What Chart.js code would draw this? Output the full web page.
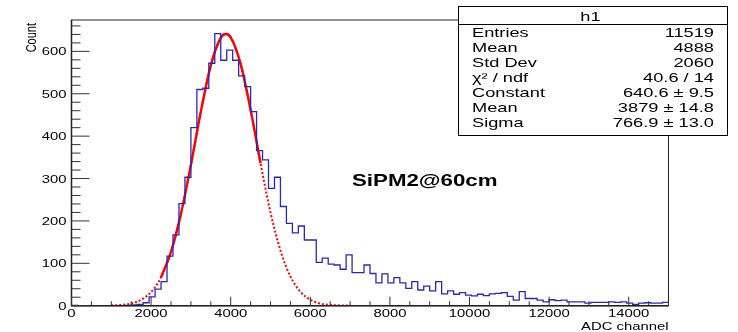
<!DOCTYPE html>
<html>
<head>
<meta charset="utf-8">
<script src="https://cdn.jsdelivr.net/npm/chart.js@4.4.0/dist/chart.umd.min.js"></script>
<style>
  html, body { margin: 0; padding: 0; background: #fff; }
  canvas { display: block; }
</style>
</head>
<body>
<canvas id="histo" width="738" height="332"></canvas>
<script>
// ======================================
// Data
// ======================================
const binLow = 0;
const binWidth = 150;
// 100 bins, 0 .. 15000
const binCounts = [
    1, 0, 0, 0, 0, 0, 0, 0, 0, 1,
    2, 3, 7, 21, 39, 57, 117, 167, 241, 303,
    420, 510, 513, 572, 642, 579, 603, 579, 542, 517,
    458, 366, 344, 277, 303, 234, 194, 172, 188, 155,
    155, 102, 112, 98, 96, 86, 120, 78, 78, 96,
    76, 54, 75, 54, 66, 54, 41, 57, 37, 46,
    35, 57, 28, 35, 27, 31, 25, 23, 27, 24,
    28, 29, 31, 22, 13, 33, 17, 17, 13, 9,
    14, 12, 13, 9, 9, 9, 6, 8, 8, 8,
    9, 8, 9, 6, 3, 6, 7, 6, 6, 8
];

// gaus fit curve (red)
const fitX = [1000, 1250, 1500, 1750, 2000, 2250, 2500, 2750, 3000, 3250, 3500, 3750, 3875,
              4000, 4250, 4500, 4750, 5000, 5250, 5500, 5750, 6000, 6250, 6500, 6750, 7000];
const fitY = [0.6, 1.8, 5, 14, 32, 67, 127, 217, 332, 458, 567, 632, 641,
              633, 570, 462, 336, 220, 130, 69, 33, 14, 5, 2, 0.6, 0.2];
const fitRange = [2250, 4750]; // solid part, the rest is dotted

const xTickLabels = [0, 2000, 4000, 6000, 8000, 10000, 12000, 14000];
const yTickLabels = [0, 100, 200, 300, 400, 500, 600];
const xTitle = 'ADC channel';
const yTitle = 'Count';
const plotLabel = 'SiPM2@60cm';

const statsTitle = 'h1';
const statsNames = ['Entries', 'Mean', 'Std Dev', 'χ² / ndf', 'Constant', 'Mean', 'Sigma'];
const statsValues = ['11519', '4888', '2060', '40.6 / 14', '640.6 ± 9.5', '3879 ± 14.8', '766.9 ± 13.0'];

// ======================================
// Build datasets
// ======================================
const histPoints = binCounts.map((c, i) => ({ x: binLow + i * binWidth, y: c }));
histPoints.push({ x: binLow + binCounts.length * binWidth, y: binCounts[binCounts.length - 1] });

const fitAll = fitX.map((x, i) => ({ x: x, y: fitY[i] }));
const fitSolid = fitAll.filter(p => p.x >= fitRange[0] && p.x <= fitRange[1]);

// ======================================
// Text helpers (the picture is stretched sideways)
// ======================================
const SX = 1.35;
const FONT = "'Liberation Sans', Arial, Helvetica, sans-serif";

function drawText(ctx, text, x, y, align, font) {
    ctx.save();
    ctx.font = font;
    ctx.textAlign = 'left';
    const w = ctx.measureText(text).width * SX;
    let left = x;
    if (align === 'center') left = x - w / 2;
    if (align === 'right') left = x - w;
    ctx.translate(left, y);
    ctx.scale(SX, 1);
    ctx.fillText(text, 0, 0);
    ctx.restore();
}

// ======================================
// Frame, ticks, labels, stats box
// ======================================
const rootFrame = {
    id: 'rootFrame',
    afterDraw(chart) {
        const ctx = chart.ctx;
        const a = chart.chartArea;
        const xs = chart.scales.x;
        const ys = chart.scales.y;
        ctx.save();

        // frame
        ctx.strokeStyle = '#222';
        ctx.lineWidth = 1;
        ctx.strokeRect(a.left, a.top, a.right - a.left, a.bottom - a.top);
        ctx.lineWidth = 1.5;
        ctx.beginPath();
        ctx.moveTo(a.left, a.top);
        ctx.lineTo(a.left, a.bottom);
        ctx.lineTo(a.right, a.bottom);
        ctx.stroke();

        // ticks inside the frame
        ctx.lineWidth = 1;
        ctx.strokeStyle = '#333';
        ctx.beginPath();
        for (let v = 0; v <= ys.max; v += 20) {
            const y = ys.getPixelForValue(v);
            const len = v % 100 === 0 ? 18 : 9;
            ctx.moveTo(a.left, y);
            ctx.lineTo(a.left + len, y);
        }
        for (let v = 0; v <= xs.max; v += 500) {
            const x = xs.getPixelForValue(v);
            const len = v % 2000 === 0 ? 9 : 4.5;
            ctx.moveTo(x, a.bottom);
            ctx.lineTo(x, a.bottom - len);
        }
        ctx.stroke();

        // tick labels
        ctx.fillStyle = '#000';
        ctx.textBaseline = 'alphabetic';
        const tickFont = '11px ' + FONT;
        yTickLabels.forEach(v => {
            drawText(ctx, String(v), a.left - 5, ys.getPixelForValue(v) + 4, 'right', tickFont);
        });
        xTickLabels.forEach(v => {
            drawText(ctx, String(v), xs.getPixelForValue(v), a.bottom + 11.5, 'center', tickFont);
        });

        // axis titles
        drawText(ctx, xTitle, a.right, 330, 'right', '11px ' + FONT);
        ctx.save();
        ctx.font = '11px ' + FONT;
        ctx.translate(36, a.top + 3);
        ctx.rotate(-Math.PI / 2);
        ctx.scale(1, SX);
        ctx.textAlign = 'right';
        ctx.fillText(yTitle, 0, 0);
        ctx.restore();

        // plot label
        drawText(ctx, plotLabel, 352, 185.5, 'left', 'bold 16.5px ' + FONT);

        // stats box
        const bx = 458, by = 6, bw = 269, bh = 129;
        ctx.fillStyle = '#fff';
        ctx.fillRect(bx, by, bw, bh);
        ctx.strokeStyle = '#000';
        ctx.lineWidth = 1;
        ctx.strokeRect(bx + 0.5, by + 0.5, bw, bh);
        ctx.beginPath();
        ctx.moveTo(bx, 24.5);
        ctx.lineTo(bx + bw, 24.5);
        ctx.stroke();
        ctx.fillStyle = '#000';
        const statFont = '13.5px ' + FONT;
        drawText(ctx, statsTitle, bx + bw / 2 - 2, 21, 'center', statFont);
        statsNames.forEach((name, i) => {
            const y = 37 + i * 15;
            drawText(ctx, name, 472, y, 'left', statFont);
            drawText(ctx, statsValues[i], 714, y, 'right', statFont);
        });

        ctx.restore();
    }
};

// ======================================
// Chart
// ======================================
const ctx = document.getElementById('histo').getContext('2d');
new Chart(ctx, {
    type: 'line',
    data: {
        datasets: [
            {
                label: 'h1',
                data: histPoints,
                stepped: 'before',
                borderColor: 'rgb(40,40,190)',
                borderWidth: 1.3,
                pointRadius: 0,
                fill: false
            },
            {
                label: 'gaus (dotted)',
                data: fitAll,
                borderColor: '#ff0000',
                borderWidth: 2,
                borderDash: [2, 2],
                cubicInterpolationMode: 'monotone',
                pointRadius: 0,
                fill: false
            },
            {
                label: 'gaus',
                data: fitSolid,
                borderColor: '#ff0000',
                borderWidth: 2.4,
                cubicInterpolationMode: 'monotone',
                pointRadius: 0,
                fill: false
            }
        ]
    },
    options: {
        responsive: false,
        animation: false,
        layout: { padding: { left: 0, right: 69.5, top: 20, bottom: 0 } },
        plugins: {
            legend: { display: false },
            tooltip: { enabled: false }
        },
        scales: {
            x: {
                type: 'linear',
                min: 0,
                max: 15000,
                ticks: { display: false },
                grid: { display: false },
                border: { display: false },
                afterFit: (scale) => { scale.height = 26.3; }
            },
            y: {
                min: 0,
                max: 674,
                ticks: { display: false },
                grid: { display: false },
                border: { display: false },
                afterFit: (scale) => { scale.width = 71.5; }
            }
        }
    },
    plugins: [rootFrame]
});
</script>
</body>
</html>
